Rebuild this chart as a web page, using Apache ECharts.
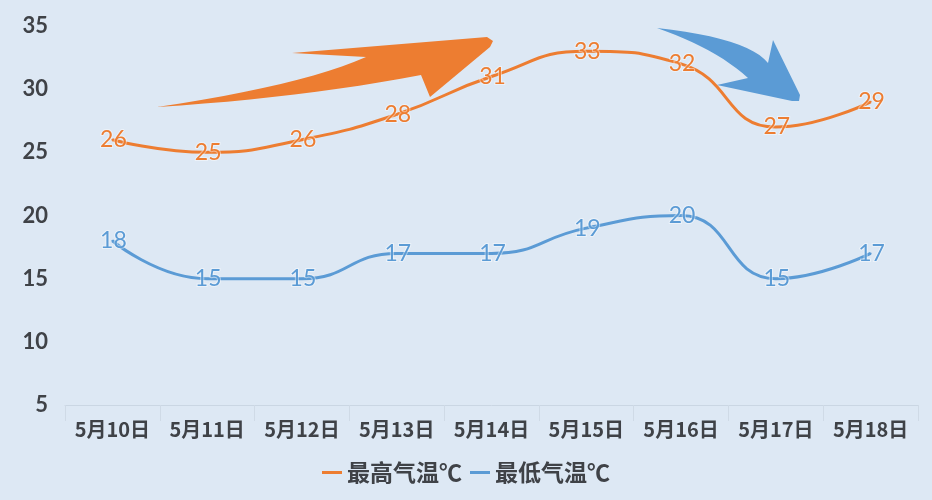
<!DOCTYPE html>
<html>
<head>
<meta charset="utf-8">
<script src="https://cdn.jsdelivr.net/npm/echarts@6/dist/echarts.min.js"></script>
<style>
  html, body { margin: 0; padding: 0; background: #dde8f4; }
  #main { width: 932px; height: 500px; }
</style>
</head>
<body>
<div id="main"></div>
<script>
var days = ['5月10日', '5月11日', '5月12日', '5月13日', '5月14日', '5月15日', '5月16日', '5月17日', '5月18日']
var highTemp = [26, 25, 26, 28, 31, 33, 32, 27, 29]
var lowTemp = [18, 15, 15, 17, 17, 19, 20, 15, 17]
var names = ['最高气温℃', '最低气温℃']

var colors = ['#ed7d31', '#5b9bd5']
var textColor = '#3f4247'
var cnFont = '"Noto Sans CJK SC", sans-serif'
var numFont = 'Lato, "Noto Sans", sans-serif'

var myChart = echarts.init(document.getElementById('main'))

// 二次贝塞尔取点，用来拼箭头外形
function quad(p0, c, p1) {
  var pts = []
  for (var i = 0; i <= 12; i++) {
    var t = i / 12
    var a = (1 - t) * (1 - t), b = 2 * (1 - t) * t, d = t * t
    pts.push([a * p0[0] + b * c[0] + d * p1[0], a * p0[1] + b * c[1] + d * p1[1]])
  }
  return pts
}

var orangeArrow = [].concat(
  quad([157, 107], [300, 86], [366, 57]),
  [[292, 53], [487, 37], [493, 41], [490, 47], [430, 97], [421, 75]],
  quad([421, 75], [300, 98], [157, 107])
)
var blueArrow = [].concat(
  quad([657, 28], [748, 38], [768, 63]),
  [[773, 40], [800, 95], [799, 101], [792, 101], [717, 85], [748, 78]],
  quad([748, 78], [715, 48], [657, 28])
)

function lineSeries(name, data, color) {
  return {
    name: name,
    type: 'line',
    data: data,
    smooth: 0.5,
    symbol: 'circle',
    symbolSize: 2,
    itemStyle: { color: color },
    lineStyle: { color: color, width: 3 },
    label: {
      show: true,
      position: 'inside',
      offset: [1, 0],
      color: color,
      fontFamily: numFont,
      fontSize: 23,
      textBorderColor: 'rgba(255,255,255,0.45)',
      textBorderWidth: 2,
    },
    z: 3,
  }
}

var option = {
  backgroundColor: '#dde8f4',
  color: colors,
  animation: false,
  grid: {
    left: 65,
    right: 14,
    top: 26,
    bottom: 95,
  },
  legend: {
    bottom: 11,
    left: 'center',
    itemWidth: 20,
    itemHeight: 3,
    itemGap: 8,
    icon: 'rect',
    textStyle: {
      color: textColor,
      fontFamily: cnFont,
      fontWeight: 'bold',
      fontSize: 23,
    },
    data: names,
  },
  xAxis: {
    type: 'category',
    data: days,
    boundaryGap: true,
    axisLine: { lineStyle: { color: '#cad6e3', width: 1 } },
    axisTick: { show: true, interval: 0, length: 16, lineStyle: { color: '#cfdae6' } },
    axisLabel: {
      interval: 0,
      color: textColor,
      fontFamily: cnFont,
      fontWeight: 'bold',
      fontSize: 20,
      margin: 14,
    },
  },
  yAxis: {
    type: 'value',
    min: 5,
    max: 35,
    interval: 5,
    axisLine: { show: false },
    axisTick: { show: false },
    splitLine: { show: false },
    axisLabel: {
      color: textColor,
      fontFamily: numFont,
      fontWeight: 'bold',
      fontSize: 22,
      margin: 17,
    },
  },
  // 装饰箭头
  graphic: [
    { type: 'polygon', z: 1, shape: { points: orangeArrow }, style: { fill: '#ed7d31' } },
    { type: 'polygon', z: 1, shape: { points: blueArrow }, style: { fill: '#5b9bd5' } },
  ],
  series: [
    lineSeries(names[0], highTemp, colors[0]),
    lineSeries(names[1], lowTemp, colors[1]),
  ],
}

myChart.setOption(option)
</script>
</body>
</html>
